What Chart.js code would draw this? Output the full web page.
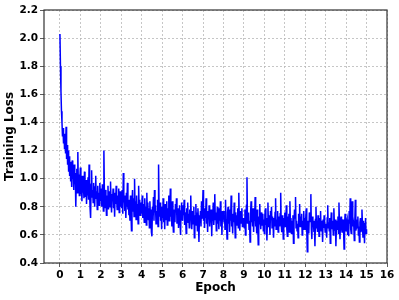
<!DOCTYPE html>
<html>
<head>
<meta charset="utf-8">
<script src="https://cdn.jsdelivr.net/npm/chart.js@4/dist/chart.umd.min.js"></script>
<style>
  html, body { margin: 0; padding: 0; background: #fff; }
  #wrap { width: 399px; height: 300px; }
</style>
</head>
<body>
<div id="wrap"><canvas id="lossChart"></canvas></div>
<script>
const lossRows = [
  [2.03, 1.80, 1.62, 1.48, 1.40, 1.30, 1.36, 1.25, 1.32, 1.21, 1.28, 1.18, 1.37, 1.14, 1.24, 1.10, 1.20, 1.05, 1.16, 1.02, 1.12, 0.98, 1.08, 0.94, 1.13, 1.00, 1.06, 0.92, 1.10, 0.96, 1.04, 0.80, 0.98, 1.07, 0.90, 1.19, 0.95, 1.03, 0.88, 1.00],
  [1.08, 0.89, 0.98, 0.84, 1.02, 0.90, 0.95, 0.86, 1.05, 0.93, 0.87, 0.99, 0.82, 0.94, 0.88, 1.01, 0.85, 1.10, 0.91, 0.79, 0.72, 0.96, 1.06, 0.87, 0.92, 0.83, 0.97, 0.89, 0.80, 0.94, 1.02, 0.86, 0.91, 0.78, 0.95, 0.84, 0.90, 0.81, 0.97, 0.88],
  [0.84, 0.93, 0.80, 0.96, 0.87, 0.77, 1.20, 0.90, 0.79, 0.92, 0.85, 0.74, 0.88, 0.82, 0.95, 0.78, 0.86, 0.91, 0.80, 0.98, 0.83, 0.76, 0.89, 0.84, 0.93, 0.79, 0.87, 0.73, 0.90, 0.82, 0.95, 0.85, 0.78, 0.88, 0.81, 0.93, 0.76, 0.86, 0.91, 0.80],
  [0.87, 0.79, 0.92, 0.75, 1.04, 0.83, 0.88, 0.77, 0.84, 0.72, 0.90, 0.80, 0.97, 0.78, 0.85, 0.74, 0.82, 0.70, 0.88, 0.76, 0.63, 0.81, 0.92, 0.77, 0.86, 0.73, 1.00, 0.79, 0.84, 0.71, 0.88, 0.76, 0.82, 0.68, 0.95, 0.78, 0.85, 0.74, 0.80, 0.83],
  [0.75, 0.88, 0.72, 0.82, 0.77, 0.69, 0.86, 0.74, 0.80, 0.67, 0.90, 0.76, 0.83, 0.71, 0.79, 0.65, 0.84, 0.73, 0.78, 0.62, 0.59, 0.80, 0.74, 0.87, 0.70, 0.92, 0.76, 0.81, 0.68, 0.77, 0.72, 0.85, 0.66, 1.10, 0.79, 0.73, 0.83, 0.70, 0.76, 0.64],
  [0.80, 0.72, 0.86, 0.69, 0.78, 0.64, 0.82, 0.75, 0.71, 0.84, 0.67, 0.79, 0.74, 0.88, 0.70, 0.77, 0.93, 0.73, 0.80, 0.66, 0.84, 0.71, 0.62, 0.78, 0.74, 0.69, 0.82, 0.76, 0.86, 0.68, 0.75, 0.79, 0.65, 0.73, 0.81, 0.70, 0.60, 0.77, 0.83, 0.72],
  [0.70, 0.81, 0.74, 0.85, 0.67, 0.76, 0.71, 0.61, 0.79, 0.73, 0.83, 0.69, 0.75, 0.65, 0.78, 0.72, 0.88, 0.70, 0.64, 0.77, 0.73, 0.68, 0.80, 0.58, 0.74, 0.71, 0.82, 0.67, 0.76, 0.63, 0.79, 0.70, 0.55, 0.74, 0.69, 0.77, 0.66, 0.84, 0.72, 0.78],
  [0.92, 0.70, 0.76, 0.65, 0.79, 0.72, 0.86, 0.68, 0.74, 0.62, 0.77, 0.71, 0.81, 0.66, 0.73, 0.69, 0.78, 0.59, 0.75, 0.70, 0.83, 0.67, 0.74, 0.89, 0.71, 0.76, 0.63, 0.72, 0.80, 0.68, 0.75, 0.64, 0.79, 0.70, 0.84, 0.66, 0.73, 0.60, 0.77, 0.71],
  [0.77, 0.69, 0.74, 0.64, 0.85, 0.71, 0.67, 0.57, 0.76, 0.80, 0.68, 0.73, 0.62, 0.78, 0.70, 0.88, 0.66, 0.74, 0.61, 0.75, 0.69, 0.83, 0.72, 0.58, 0.76, 0.67, 0.74, 0.70, 0.79, 0.65, 0.90, 0.71, 0.63, 0.77, 0.68, 0.73, 0.79, 0.66, 0.72, 0.69],
  [0.72, 0.65, 0.78, 0.60, 0.74, 0.81, 1.01, 0.68, 0.72, 0.76, 0.64, 0.70, 0.55, 0.75, 0.84, 0.69, 0.73, 0.66, 0.79, 0.62, 0.74, 0.70, 0.87, 0.66, 0.72, 0.61, 0.78, 0.69, 0.53, 0.73, 0.68, 0.82, 0.71, 0.64, 0.76, 0.70, 0.67, 0.75, 0.63, 0.71],
  [0.61, 0.74, 0.79, 0.67, 0.72, 0.56, 0.70, 0.83, 0.66, 0.74, 0.69, 0.60, 0.77, 0.71, 0.80, 0.65, 0.73, 0.68, 0.58, 0.72, 0.66, 0.76, 0.86, 0.64, 0.71, 0.68, 0.77, 0.62, 0.73, 0.69, 0.66, 0.75, 0.90, 0.67, 0.62, 0.74, 0.70, 0.57, 0.72, 0.68],
  [0.76, 0.66, 0.71, 0.81, 0.64, 0.59, 0.73, 0.68, 0.75, 0.62, 0.84, 0.69, 0.72, 0.61, 0.70, 0.66, 0.74, 0.54, 0.69, 0.78, 0.72, 0.87, 0.65, 0.70, 0.63, 0.68, 0.58, 0.75, 0.71, 0.82, 0.66, 0.73, 0.69, 0.75, 0.60, 0.70, 0.64, 0.77, 0.67, 0.72],
  [0.64, 0.72, 0.79, 0.63, 0.48, 0.70, 0.66, 0.61, 0.76, 0.69, 0.73, 0.89, 0.64, 0.57, 0.73, 0.67, 0.70, 0.62, 0.66, 0.52, 0.71, 0.80, 0.65, 0.68, 0.62, 0.74, 0.69, 0.59, 0.72, 0.66, 0.77, 0.63, 0.70, 0.67, 0.55, 0.71, 0.65, 0.74, 0.68, 0.62],
  [0.68, 0.63, 0.58, 0.72, 0.81, 0.65, 0.69, 0.63, 0.72, 0.54, 0.67, 0.76, 0.64, 0.70, 0.66, 0.60, 0.79, 0.68, 0.63, 0.71, 0.52, 0.66, 0.70, 0.64, 0.73, 0.61, 0.83, 0.67, 0.57, 0.69, 0.73, 0.65, 0.62, 0.68, 0.71, 0.64, 0.50, 0.67, 0.75, 0.63],
  [0.63, 0.69, 0.71, 0.60, 0.66, 0.59, 0.77, 0.68, 0.86, 0.64, 0.61, 0.72, 0.84, 0.66, 0.70, 0.67, 0.56, 0.69, 0.85, 0.63, 0.65, 0.71, 0.68, 0.73, 0.60, 0.66, 0.55, 0.69, 0.72, 0.62, 0.64, 0.78, 0.67, 0.58, 0.70, 0.65, 0.54, 0.68, 0.72, 0.61],
  [0.64]
];

const xTicks = [0, 1, 2, 3, 4, 5, 6, 7, 8, 9, 10, 11, 12, 13, 14, 15, 16];
const yTicks = [0.4, 0.6, 0.8, 1.0, 1.2, 1.4, 1.6, 1.8, 2.0, 2.2];

// flatten into {x: epoch, y: loss}
const points = [];
lossRows.forEach(function (row, ep) {
  row.forEach(function (v, i) {
    points.push({ x: ep + i / row.length, y: v });
  });
});

const tickFont = { family: "'DejaVu Sans', sans-serif", size: 10.5, weight: 'bold' };
const titleFont = { family: "'DejaVu Sans', sans-serif", size: 12, weight: 'bold' };
const gridStyle = {
  color: '#b8b8b8',
  lineWidth: 0.8,
  tickLength: 4,
  tickColor: '#333',
  tickBorderDash: []
};
// in v4 the dash of the grid lines comes from border.dash
const borderStyle = { display: false, dash: [2, 2] };

// black frame round the plot area
const framePlugin = {
  id: 'frame',
  afterDraw(chart) {
    const a = chart.chartArea;
    const c = chart.ctx;
    c.save();
    c.strokeStyle = '#333';
    c.lineWidth = 1.2;
    c.strokeRect(a.left, a.top, a.right - a.left, a.bottom - a.top);
    c.restore();
  }
};

new Chart(document.getElementById('lossChart').getContext('2d'), {
  type: 'line',
  data: {
    datasets: [{
      data: points,
      borderColor: '#0000ff',
      borderWidth: 1.5,
      pointRadius: 0,
      tension: 0,
      fill: false
    }]
  },
  options: {
    responsive: true,
    maintainAspectRatio: false,
    animation: false,
    events: [],
    layout: { padding: { top: 10, right: 12, left: 0, bottom: 0 } },
    plugins: { legend: { display: false }, tooltip: { enabled: false } },
    scales: {
      x: {
        type: 'linear',
        min: -0.78,
        max: 16,
        afterBuildTicks(scale) { scale.ticks = xTicks.map(v => ({ value: v })); },
        afterFit(scale) { scale.height = 37; },
        grid: gridStyle,
        border: borderStyle,
        ticks: { color: '#000', font: tickFont, padding: 2, maxRotation: 0, autoSkip: false },
        title: { display: true, text: 'Epoch', color: '#000', font: titleFont, padding: { top: 0, bottom: 5 } }
      },
      y: {
        min: 0.4,
        max: 2.2,
        afterBuildTicks(scale) { scale.ticks = yTicks.map(v => ({ value: v })); },
        afterFit(scale) { scale.width = 44; },
        grid: gridStyle,
        border: borderStyle,
        ticks: { color: '#000', font: tickFont, padding: 2, callback: v => v.toFixed(1) },
        title: { display: true, text: 'Training Loss', color: '#000', font: titleFont, padding: { top: 3, bottom: 0 } }
      }
    }
  },
  plugins: [framePlugin]
});
</script>
</body>
</html>
